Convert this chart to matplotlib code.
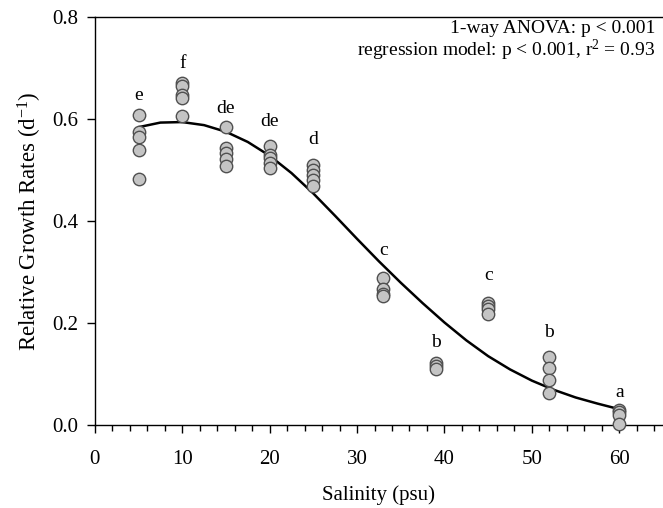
import matplotlib
matplotlib.use("Agg")
import matplotlib.pyplot as plt
from matplotlib.ticker import MultipleLocator

plt.rcParams['font.family'] = ['Liberation Serif', 'DejaVu Serif']
plt.rcParams['mathtext.fontset'] = 'custom'
plt.rcParams['mathtext.rm'] = 'Liberation Serif'
plt.rcParams['mathtext.it'] = 'Liberation Serif:italic'

# measured growth rates per salinity treatment (psu)
salinity = [5, 10, 15, 20, 25, 33, 39, 45, 52, 60]
rgr = [
    [0.608, 0.575, 0.565, 0.540, 0.482],
    [0.670, 0.665, 0.647, 0.642, 0.606],
    [0.584, 0.543, 0.533, 0.521, 0.508],
    [0.547, 0.529, 0.523, 0.513, 0.503],
    [0.510, 0.500, 0.490, 0.480, 0.469],
    [0.288, 0.266, 0.257, 0.252],
    [0.121, 0.115, 0.109],
    [0.239, 0.233, 0.228, 0.218],
    [0.134, 0.112, 0.088, 0.063],
    [0.029, 0.026, 0.020, 0.001],
]
# significance letters and their heights
letters = ['e', 'f', 'de', 'de', 'd', 'c', 'b', 'c', 'b', 'a']
letter_y = [0.647, 0.709, 0.621, 0.595, 0.559, 0.343, 0.161, 0.294, 0.181, 0.063]

# regression curve
fit_x = [5, 7.5, 10, 12.5, 15, 17.5, 20, 22.5, 25, 27.5, 30, 32.5,
         35, 37.5, 40, 42.5, 45, 47.5, 50, 52.5, 55, 57.5, 60]
fit_y = [0.584, 0.593, 0.594, 0.588, 0.575, 0.555, 0.528, 0.494, 0.454, 0.410,
         0.365, 0.321, 0.279, 0.239, 0.201, 0.166, 0.135, 0.109, 0.087, 0.069,
         0.054, 0.042, 0.031]

fig = plt.figure(figsize=(6.63, 5.08), dpi=100)
ax = fig.add_axes([0.143, 0.1634, 0.857, 0.8031])

for s, vals in zip(salinity, rgr):
    ax.scatter([s] * len(vals), vals, s=80, facecolor='#c4c4c4',
               edgecolor='#505050', linewidth=1.0, zorder=3, clip_on=False)

ax.plot(fit_x, fit_y, color='black', lw=1.8, zorder=2)

for s, lab, ly in zip(salinity, letters, letter_y):
    ax.text(s, ly, lab, ha='center', va='center', fontsize=14)

ax.text(0.986, 0.973, '1-way ANOVA: p < 0.001', transform=ax.transAxes,
        ha='right', va='center', fontsize=14)
ax.text(0.986, 0.917, 'regression model: p < 0.001, r$^{2}$ = 0.93',
        transform=ax.transAxes, ha='right', va='center', fontsize=14)

ax.set_xlim(0, 65)
ax.set_ylim(0, 0.8)
ax.xaxis.set_major_locator(MultipleLocator(10))
ax.xaxis.set_minor_locator(MultipleLocator(2))
ax.yaxis.set_major_locator(MultipleLocator(0.2))
ax.yaxis.set_major_formatter(plt.FormatStrFormatter('%.1f'))
ax.spines['right'].set_visible(False)
for sp in ax.spines.values():
    sp.set_linewidth(1.0)
ax.tick_params(axis='both', which='major', direction='out', length=6,
               width=1.0, labelsize=15)
ax.tick_params(axis='x', which='minor', direction='out', length=4, width=1.0)
ax.tick_params(axis='x', pad=12)
ax.tick_params(axis='y', pad=6)

ax.set_xlabel('Salinity (psu)', fontsize=15, labelpad=12)
ax.set_ylabel('Relative Growth Rates (d$^{\\mathrm{-1}}$)', fontsize=16.5, labelpad=6)

fig.savefig('out.png', dpi=100)
